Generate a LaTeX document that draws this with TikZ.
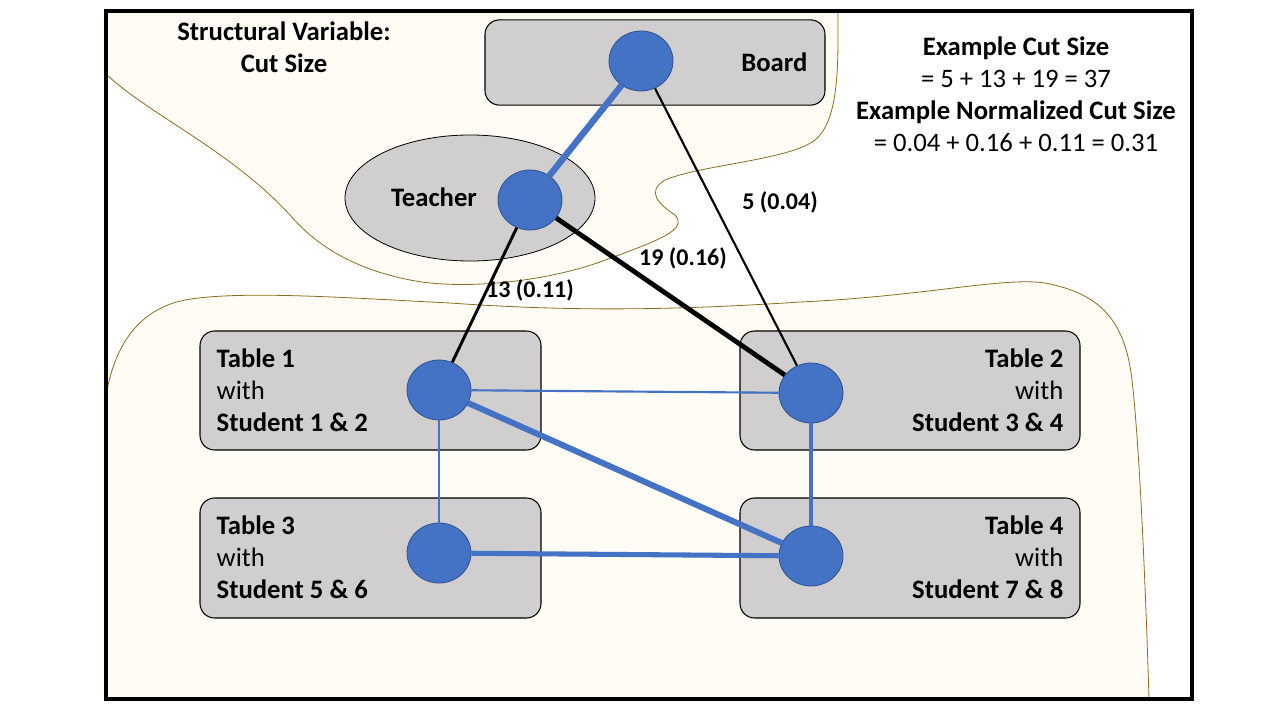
\documentclass[tikz,border=0pt]{standalone}
\usepackage{fontspec}
\setmainfont{Carlito}
\usetikzlibrary{shapes.geometric}
\definecolor{cream}{HTML}{FFFCF5}
\definecolor{edgeol}{HTML}{8C6D1F}
\definecolor{boxgray}{HTML}{D0CECE}
\definecolor{nblue}{HTML}{4472C4}
\definecolor{nborder}{HTML}{2F528F}
\tikzset{
  tbox/.style={rectangle, rounded corners=11pt, fill=boxgray, draw=black, line width=0.8pt},
  vert/.style={ellipse, fill=nblue, draw=nborder, line width=0.6pt, minimum width=48pt, minimum height=45pt, inner sep=0pt},
  lbl/.style={font=\fontsize{20}{24}\selectfont\bfseries},
  elbl/.style={font=\fontsize{18}{22}\selectfont\bfseries},
  txt/.style={font=\fontsize{20}{24}\selectfont, align=center},
  ttxt/.style={font=\fontsize{20}{24}\selectfont},
  bedge/.style={draw=nblue},
  kedge/.style={draw=black},
}
\begin{document}
\begin{tikzpicture}[x=0.75pt,y=-0.75pt]
\useasboundingbox (0,0) rectangle (1280,720);
% upper region
\path[fill=cream] (107,12) -- (838,12)
  .. controls (838,60) and (840,120) .. (815,140)
  .. controls (790,160) and (700,165) .. (665,180)
  .. controls (645,192) and (660,205) .. (675,215)
  .. controls (688,230) and (660,240) .. (600,262)
  .. controls (540,283) and (460,290) .. (410,280)
  .. controls (360,270) and (320,250) .. (290,215)
  .. controls (230,150) and (150,115) .. (107,75) -- cycle;
\draw[draw=edgeol, line width=0.6pt] (838,12)
  .. controls (838,60) and (840,120) .. (815,140)
  .. controls (790,160) and (700,165) .. (665,180)
  .. controls (645,192) and (660,205) .. (675,215)
  .. controls (688,230) and (660,240) .. (600,262)
  .. controls (540,283) and (460,290) .. (410,280)
  .. controls (360,270) and (320,250) .. (290,215)
  .. controls (230,150) and (150,115) .. (107,75);
% lower region
\path[fill=cream] (107,390)
  .. controls (115,350) and (135,310) .. (185,300)
  .. controls (240,290) and (350,298) .. (450,303)
  .. controls (550,310) and (650,312) .. (800,302)
  .. controls (930,296) and (1010,275) .. (1050,284)
  .. controls (1100,295) and (1125,320) .. (1132,380)
  .. controls (1140,450) and (1146,600) .. (1149,699) -- (107,699) -- cycle;
\draw[draw=edgeol, line width=0.6pt] (107,390)
  .. controls (115,350) and (135,310) .. (185,300)
  .. controls (240,290) and (350,298) .. (450,303)
  .. controls (550,310) and (650,312) .. (800,302)
  .. controls (930,296) and (1010,275) .. (1050,284)
  .. controls (1100,295) and (1125,320) .. (1132,380)
  .. controls (1140,450) and (1146,600) .. (1149,699);
% frame
\draw[line width=2.4pt] (106,11) rectangle (1192,699);

% boxes
\node[tbox, minimum width=255pt, minimum height=64pt] (boardbox) at (655,62.5) {};
\node[lbl, anchor=east] (boardlbl) at (812,62) {Board};
\node[ellipse, fill=boxgray, draw=black, line width=0.6pt, minimum width=187.5pt, minimum height=94.5pt] (teacherbox) at (470,198) {};
\node[lbl] (teacherlbl) at (434,197) {Teacher};
\node[tbox, minimum width=255.75pt, minimum height=89.25pt] (t1box) at (370.5,390.5) {};
\node[tbox, minimum width=255pt, minimum height=89.25pt] (t2box) at (910,390.5) {};
\node[tbox, minimum width=255.75pt, minimum height=90pt] (t3box) at (370.5,558) {};
\node[tbox, minimum width=255pt, minimum height=90pt] (t4box) at (910,558) {};
\node[ttxt, align=left, anchor=west] (t1txt) at (212,390) {\textbf{Table 1}\\with\\\textbf{Student 1 \& 2}};
\node[ttxt, align=right, anchor=east] (t2txt) at (1068,390) {\textbf{Table 2}\\with\\\textbf{Student 3 \& 4}};
\node[ttxt, align=left, anchor=west] (t3txt) at (212,557) {\textbf{Table 3}\\with\\\textbf{Student 5 \& 6}};
\node[ttxt, align=right, anchor=east] (t4txt) at (1068,557) {\textbf{Table 4}\\with\\\textbf{Student 7 \& 8}};

% vertices
\node[vert] (vb) at (641,61) {};
\node[vert] (vt) at (530,200) {};
\node[vert] (v1) at (439,390) {};
\node[vert] (v2) at (811,393) {};
\node[vert] (v3) at (439,553) {};
\node[vert] (v4) at (811,556) {};

% edges
\draw[bedge, line width=4.8pt] (vb) -- (vt);
\draw[kedge, line width=1.6pt] (vb) -- (v2);
\draw[kedge, line width=3.6pt] (vt) -- (v2);
\draw[kedge, line width=2.2pt] (vt) -- (v1);
\draw[bedge, line width=1.6pt] (v1) -- (v2);
\draw[bedge, line width=1.1pt] (v1) -- (v3);
\draw[bedge, line width=4.5pt] (v1) -- (v4);
\draw[bedge, line width=2.8pt] (v2) -- (v4);
\draw[bedge, line width=3.8pt] (v3) -- (v4);

% edge labels
\node[elbl] (l5) at (780,202) {5 (0.04)};
\node[elbl] (l19) at (683,258) {19 (0.16)};
\node[elbl] (l13) at (530,290) {13 (0.11)};

% title texts
\node[align=center, font=\fontsize{20}{24}\selectfont\bfseries] (title) at (284,47) {Structural Variable:\\Cut Size};
\node[txt] (ex) at (1016,94) {\textbf{Example Cut Size}\\= 5 + 13 + 19 = 37\\\textbf{Example Normalized Cut Size}\\= 0.04 + 0.16 + 0.11 = 0.31};
\end{tikzpicture}
\end{document}
